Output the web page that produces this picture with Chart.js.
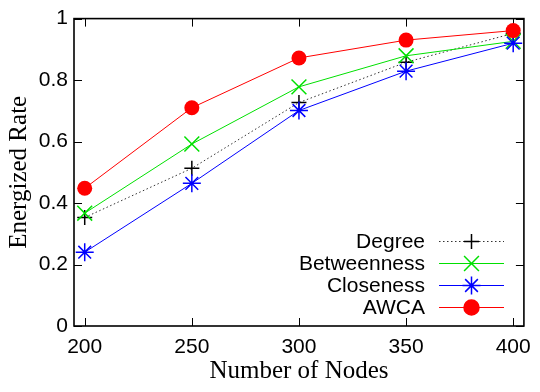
<!DOCTYPE html>
<html>
<head>
<meta charset="utf-8">
<script src="https://cdn.jsdelivr.net/npm/chart.js@4/dist/chart.umd.min.js"></script>
<style>
  html, body { margin: 0; padding: 0; background: #fff; }
  #wrap { width: 540px; height: 392px; }
</style>
</head>
<body>
<div id="wrap"><canvas id="chart" width="540" height="392"></canvas></div>
<script>
// Data
const nodes = [200, 250, 300, 350, 400];
const degree = [0.353, 0.513, 0.727, 0.858, 0.952];
const betweenness = [0.367, 0.592, 0.778, 0.879, 0.926];
const closeness = [0.240, 0.464, 0.701, 0.829, 0.920];
const awca = [0.448, 0.710, 0.872, 0.930, 0.961];

const xTicks = [200, 250, 300, 350, 400];
const yTicks = [0, 0.2, 0.4, 0.6, 0.8, 1];
const seriesNames = ['Degree', 'Betweenness', 'Closeness', 'AWCA'];

const TICK_FONT = { family: "'Liberation Sans', Arial, sans-serif", size: 21 };
const TITLE_FONT = { family: "'Liberation Serif', 'Times New Roman', serif", size: 25, lineHeight: 1 };

function points(values) {
  return values.map((v, i) => ({ x: nodes[i], y: v }));
}

// Draw a marker for the legend, same shapes as the chart points
function drawMarker(ctx, style, r, x, y, color) {
  ctx.save();
  ctx.strokeStyle = color;
  ctx.fillStyle = color;
  ctx.lineWidth = 1.5;
  ctx.setLineDash([]);
  ctx.beginPath();
  const d = r * Math.SQRT1_2;
  if (style === 'cross' || style === 'star') {
    ctx.moveTo(x - r, y); ctx.lineTo(x + r, y);
    ctx.moveTo(x, y - r); ctx.lineTo(x, y + r);
  }
  if (style === 'crossRot' || style === 'star') {
    ctx.moveTo(x - d, y - d); ctx.lineTo(x + d, y + d);
    ctx.moveTo(x - d, y + d); ctx.lineTo(x + d, y - d);
  }
  if (style === 'circle') {
    ctx.arc(x, y, r, 0, Math.PI * 2);
    ctx.fill();
  }
  ctx.stroke();
  ctx.restore();
}

// Frame with inward ticks on all four sides
const framePlugin = {
  id: 'frame',
  beforeDatasetsDraw(chart) {
    const { ctx, chartArea: a, scales } = chart;
    ctx.save();
    ctx.strokeStyle = '#000';
    ctx.lineWidth = 1;
    ctx.beginPath();
    scales.x.ticks.forEach(t => {
      const px = Math.round(scales.x.getPixelForValue(t.value)) + 0.5;
      ctx.moveTo(px, a.bottom); ctx.lineTo(px, a.bottom - 8);
      ctx.moveTo(px, a.top); ctx.lineTo(px, a.top + 8);
    });
    scales.y.ticks.forEach(t => {
      const py = Math.round(scales.y.getPixelForValue(t.value)) + 0.5;
      ctx.moveTo(a.left, py); ctx.lineTo(a.left + 8, py);
      ctx.moveTo(a.right, py); ctx.lineTo(a.right - 8, py);
    });
    ctx.stroke();
    ctx.lineWidth = 1.6;
    ctx.strokeRect(a.left, a.top, a.right - a.left, a.bottom - a.top);
    ctx.restore();
  }
};

// gnuplot style key: right aligned text, sample line with marker
const keyPlugin = {
  id: 'key',
  afterDraw(chart) {
    const { ctx } = chart;
    const textRight = 425;
    const lineStart = 439;
    const lineEnd = 504;
    const top = 241;
    const rowH = 22;
    ctx.save();
    ctx.font = `${TICK_FONT.size}px ${TICK_FONT.family}`;
    ctx.textAlign = 'right';
    ctx.textBaseline = 'middle';
    chart.data.datasets.forEach((ds, i) => {
      const y = top + i * rowH;
      ctx.fillStyle = '#000';
      ctx.fillText(ds.label, textRight, y + 1);
      ctx.strokeStyle = ds.borderColor;
      ctx.lineWidth = ds.borderWidth;
      ctx.setLineDash(ds.borderDash || []);
      ctx.beginPath();
      ctx.moveTo(lineStart, y + 0.5);
      ctx.lineTo(lineEnd, y + 0.5);
      ctx.stroke();
      drawMarker(ctx, ds.pointStyle, ds.pointRadius, (lineStart + lineEnd) / 2, y + 0.5, ds.pointBorderColor);
    });
    ctx.restore();
  }
};

const chart = new Chart(document.getElementById('chart'), {
  type: 'line',
  data: {
    datasets: [
      {
        label: seriesNames[0],
        data: points(degree),
        borderColor: '#333333',
        borderWidth: 1,
        borderDash: [1.5, 2.5],
        pointStyle: 'cross',
        pointRadius: 7.5,
        pointBorderWidth: 1.5,
        pointBorderColor: '#000000',
        pointBackgroundColor: '#000000',
        order: 4
      },
      {
        label: seriesNames[1],
        data: points(betweenness),
        borderColor: '#00e000',
        borderWidth: 1,
        pointStyle: 'crossRot',
        pointRadius: 10.5,
        pointBorderWidth: 1.5,
        pointBorderColor: '#00e000',
        pointBackgroundColor: '#00e000',
        order: 3
      },
      {
        label: seriesNames[2],
        data: points(closeness),
        borderColor: '#0000ff',
        borderWidth: 1,
        pointStyle: 'star',
        pointRadius: 9,
        pointBorderWidth: 1.5,
        pointBorderColor: '#0000ff',
        pointBackgroundColor: '#0000ff',
        order: 2
      },
      {
        label: seriesNames[3],
        data: points(awca),
        borderColor: '#ff0000',
        borderWidth: 1,
        pointStyle: 'circle',
        pointRadius: 7.5,
        pointBorderWidth: 0,
        pointBorderColor: '#ff0000',
        pointBackgroundColor: '#ff0000',
        order: 1
      }
    ]
  },
  options: {
    responsive: false,
    animation: false,
    layout: { padding: { top: 12, right: 9, left: 0, bottom: 0 } },
    plugins: {
      legend: { display: false },
      tooltip: { enabled: false }
    },
    elements: { line: { tension: 0 } },
    scales: {
      x: {
        type: 'linear',
        min: 195,
        max: 405,
        afterBuildTicks: scale => { scale.ticks = xTicks.map(v => ({ value: v })); },
        afterFit: scale => { scale.height = 66; },
        grid: { display: false, drawTicks: false },
        border: { display: false },
        ticks: { font: TICK_FONT, color: '#000', padding: 9, maxRotation: 0 },
        title: {
          display: true,
          text: 'Number of Nodes',
          font: TITLE_FONT,
          color: '#000',
          padding: { top: 0, bottom: 8 }
        }
      },
      y: {
        min: 0,
        max: 1,
        afterBuildTicks: scale => { scale.ticks = yTicks.map(v => ({ value: v })); },
        afterFit: scale => { scale.width = 74; },
        grid: { display: false, drawTicks: false },
        border: { display: false },
        ticks: {
          font: TICK_FONT,
          color: '#000',
          padding: 6,
          callback: v => String(Number(v.toFixed(1)))
        },
        title: {
          display: true,
          text: 'Energized Rate',
          font: TITLE_FONT,
          color: '#000',
          padding: { top: 6.5, bottom: 0 }
        }
      }
    }
  },
  plugins: [framePlugin, keyPlugin]
});
</script>
</body>
</html>
